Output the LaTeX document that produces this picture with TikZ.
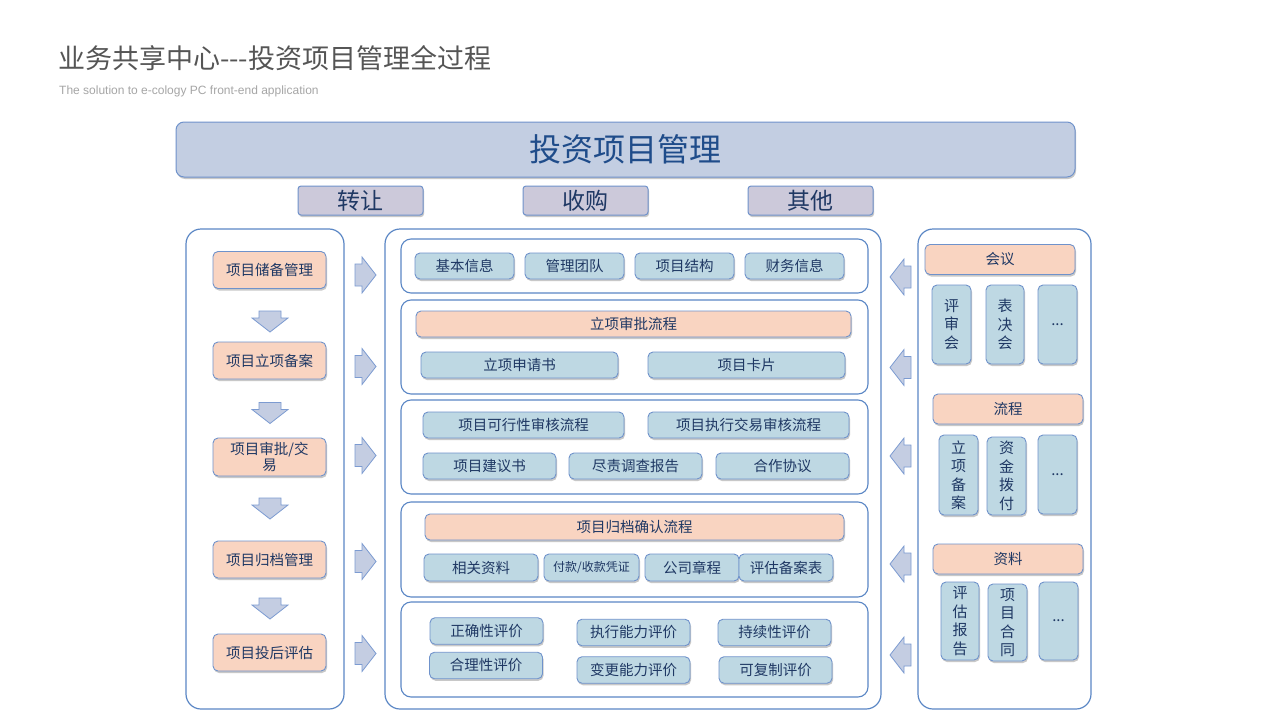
\documentclass[tikz,border=0pt]{standalone}
\usepackage{fontspec}
\setmainfont{Noto Sans CJK SC}
\newfontfamily\latinsans{Liberation Sans}
\usetikzlibrary{shadows}
\definecolor{panelborder}{HTML}{5B87C5}
\definecolor{boxborder}{HTML}{6F92CB}
\definecolor{bluefill}{HTML}{BED8E3}
\definecolor{orangefill}{HTML}{F9D4C1}
\definecolor{topfill}{HTML}{C3CEE2}
\definecolor{lavfill}{HTML}{CCC9DA}
\definecolor{textblue}{HTML}{1F3864}
\definecolor{titleblue}{HTML}{1F4C8A}
\definecolor{arrowfill}{HTML}{C4CDE2}
\definecolor{arrowborder}{HTML}{7C9BD1}
\definecolor{titlegray}{HTML}{555555}
\definecolor{subgray}{HTML}{A6A6A6}
\tikzset{
  shd/.style={drop shadow={shadow xshift=1pt,shadow yshift=-2pt,opacity=0.3,fill=black!70}},
  panel/.style={draw=panelborder,line width=1.2pt,fill=white,rounded corners=15pt,inner sep=0pt},
  subpanel/.style={draw=panelborder,line width=1.1pt,fill=white,rounded corners=10pt,inner sep=0pt},
  basebox/.style={draw=boxborder,line width=0.9pt,rounded corners=5pt,inner sep=0pt,text=textblue,font=\fontsize{14.5}{17}\selectfont,shd},
  bbox/.style={basebox,fill=bluefill},
  obox/.style={basebox,fill=orangefill},
  vbox/.style={basebox,fill=bluefill,font=\fontsize{15}{18.5}\selectfont,align=center},
  topbox/.style={draw=boxborder,line width=1pt,fill=topfill,rounded corners=8pt,inner sep=0pt,text=titleblue,font=\fontsize{32}{36}\selectfont,shd},
  catbox/.style={draw=boxborder,line width=1pt,fill=lavfill,rounded corners=3pt,inner sep=0pt,text=textblue,font=\fontsize{23}{26}\selectfont,shd},
  blkarrow/.style={fill=arrowfill,draw=arrowborder,line width=0.8pt,line join=miter},
  rarr/.pic={\path[blkarrow] (-10.5,-11) -- (-3.5,-11) -- (-3.5,-18) -- (10.5,0) -- (-3.5,18) -- (-3.5,11) -- (-10.5,11) -- cycle;},
  larr/.pic={\path[blkarrow] (10.5,-11) -- (3.5,-11) -- (3.5,-18) -- (-10.5,0) -- (3.5,18) -- (3.5,11) -- (10.5,11) -- cycle;},
  darr/.pic={\path[blkarrow] (-11,-10.5) -- (11,-10.5) -- (11,-3.5) -- (18,-3.5) -- (0,10.5) -- (-18,-3.5) -- (-11,-3.5) -- cycle;},
}
\begin{document}
\begin{tikzpicture}[x=1pt,y=-1pt]
\useasboundingbox[fill=white] (0,0) rectangle (1280,720);
% titles
\node[anchor=west,inner sep=0pt,text=titlegray,font=\fontsize{27}{30}\selectfont] (title) at (58,58) {业务共享中心-{}-{}-投资项目管理全过程};
\node[anchor=west,inner sep=0pt,text=subgray,font=\latinsans\fontsize{12}{14}\selectfont] (subtitle) at (59,91) {The solution to e-cology PC front-end application};
% top
\node[topbox,minimum width=899pt,minimum height=55pt] (top) at (625.5,149.5) {投资项目管理};
\node[catbox,minimum width=125pt,minimum height=29pt] (c1) at (360.5,200.5) {转让};
\node[catbox,minimum width=125pt,minimum height=29pt] (c2) at (585.5,200.5) {收购};
\node[catbox,minimum width=125pt,minimum height=29pt] (c3) at (810.5,200.5) {其他};
% panels
\node[panel,minimum width=158pt,minimum height=480pt] (lp) at (265,469) {};
\node[panel,minimum width=496pt,minimum height=480pt] (cp) at (633,469) {};
\node[panel,minimum width=173pt,minimum height=480pt] (rp) at (1004.5,469) {};
% left column
\node[obox,minimum width=113pt,minimum height=37pt] (l1) at (269.5,270) {项目储备管理};
\node[obox,minimum width=113pt,minimum height=37pt] (l2) at (269.5,360.5) {项目立项备案};
\node[obox,minimum width=113pt,minimum height=38pt,align=center,font=\fontsize{14.5}{16}\selectfont] (l3) at (269.5,457) {项目审批/交\\易};
\node[obox,minimum width=113pt,minimum height=37pt] (l4) at (269.5,559.5) {项目归档管理};
\node[obox,minimum width=113pt,minimum height=37pt] (l5) at (269.5,652.5) {项目投后评估};
\pic (d1) at (270,321.5) {darr};
\pic (d2) at (270,413) {darr};
\pic (d3) at (270,508.5) {darr};
\pic (d4) at (270,608.5) {darr};
\pic (r1) at (365.5,275) {rarr};
\pic (r2) at (365.5,366.5) {rarr};
\pic (r3) at (365.5,455.5) {rarr};
\pic (r4) at (365.5,561.5) {rarr};
\pic (r5) at (365.5,653.5) {rarr};
\pic (a1) at (900.5,277) {larr};
\pic (a2) at (900.5,367.5) {larr};
\pic (a3) at (900.5,456) {larr};
\pic (a4) at (900.5,564) {larr};
\pic (a5) at (900.5,655) {larr};
% center sub panels
\node[subpanel,minimum width=467pt,minimum height=54pt] (p1) at (634.5,266) {};
\node[subpanel,minimum width=467pt,minimum height=94pt] (p2) at (634.5,347) {};
\node[subpanel,minimum width=467pt,minimum height=94pt] (p3) at (634.5,447) {};
\node[subpanel,minimum width=467pt,minimum height=95pt] (p4) at (634.5,549.5) {};
\node[subpanel,minimum width=467pt,minimum height=95pt] (p5) at (634.5,649.5) {};
% p1
\node[bbox,minimum width=99pt,minimum height=26pt] (b11) at (464.5,266) {基本信息};
\node[bbox,minimum width=99pt,minimum height=26pt] (b12) at (574.5,266) {管理团队};
\node[bbox,minimum width=99pt,minimum height=26pt] (b13) at (684.5,266) {项目结构};
\node[bbox,minimum width=99pt,minimum height=26pt] (b14) at (794.5,266) {财务信息};
% p2
\node[obox,minimum width=435pt,minimum height=26pt] (b21) at (633.5,324) {立项审批流程};
\node[bbox,minimum width=197pt,minimum height=26pt] (b22) at (519.5,365) {立项申请书};
\node[bbox,minimum width=197pt,minimum height=26pt] (b23) at (746.5,365) {项目卡片};
% p3
\node[bbox,minimum width=201pt,minimum height=26pt] (b31) at (523.5,425) {项目可行性审核流程};
\node[bbox,minimum width=201pt,minimum height=26pt] (b32) at (748.5,425) {项目执行交易审核流程};
\node[bbox,minimum width=133pt,minimum height=26pt] (b33) at (489.5,466) {项目建议书};
\node[bbox,minimum width=133pt,minimum height=26pt] (b34) at (635.5,466) {尽责调查报告};
\node[bbox,minimum width=133pt,minimum height=26pt] (b35) at (782.5,466) {合作协议};
% p4
\node[obox,minimum width=419pt,minimum height=26pt] (b41) at (634.5,527) {项目归档确认流程};
\node[bbox,minimum width=114pt,minimum height=27pt] (b42) at (481,567.5) {相关资料};
\node[bbox,minimum width=95pt,minimum height=27pt,font=\fontsize{12}{14}\selectfont] (b43) at (591.5,567.5) {付款/收款凭证};
\node[bbox,minimum width=94pt,minimum height=27pt] (b44) at (692,567.5) {公司章程};
\node[bbox,minimum width=94pt,minimum height=27pt] (b45) at (786,567.5) {评估备案表};
% p5
\node[bbox,minimum width=113pt,minimum height=26.5pt] (b51) at (486.5,631) {正确性评价};
\node[bbox,minimum width=113pt,minimum height=26.5pt] (b52) at (486,665.5) {合理性评价};
\node[bbox,minimum width=113pt,minimum height=26.5pt] (b53) at (633.5,632.5) {执行能力评价};
\node[bbox,minimum width=113pt,minimum height=26.5pt] (b54) at (633.5,670) {变更能力评价};
\node[bbox,minimum width=113pt,minimum height=26.5pt] (b55) at (774.5,632.5) {持续性评价};
\node[bbox,minimum width=113pt,minimum height=26.5pt] (b56) at (775.5,670) {可复制评价};
% right column
\node[obox,minimum width=150pt,minimum height=30pt] (m1) at (1000,259.5) {会议};
\node[vbox,minimum width=39pt,minimum height=79pt] (m11) at (951.5,324.5) {评\\审\\会};
\node[vbox,minimum width=38pt,minimum height=79pt] (m12) at (1005,324.5) {表\\决\\会};
\node[vbox,minimum width=39pt,minimum height=79pt] (m13) at (1057.5,324.5) {...};
\node[obox,minimum width=150pt,minimum height=30pt] (m2) at (1008,409) {流程};
\node[vbox,minimum width=39pt,minimum height=80pt] (m21) at (958.5,475) {立\\项\\备\\案};
\node[vbox,minimum width=39pt,minimum height=78pt] (m22) at (1006.5,476) {资\\金\\拨\\付};
\node[vbox,minimum width=39pt,minimum height=79pt] (m23) at (1057.5,474.5) {...};
\node[obox,minimum width=150pt,minimum height=30pt] (m3) at (1008,559) {资料};
\node[vbox,minimum width=38pt,minimum height=78pt] (m31) at (960,621) {评\\估\\报\\告};
\node[vbox,minimum width=39pt,minimum height=77pt] (m32) at (1007.5,622.5) {项\\目\\合\\同};
\node[vbox,minimum width=39pt,minimum height=78pt] (m33) at (1058.5,621) {...};
\end{tikzpicture}
\end{document}
